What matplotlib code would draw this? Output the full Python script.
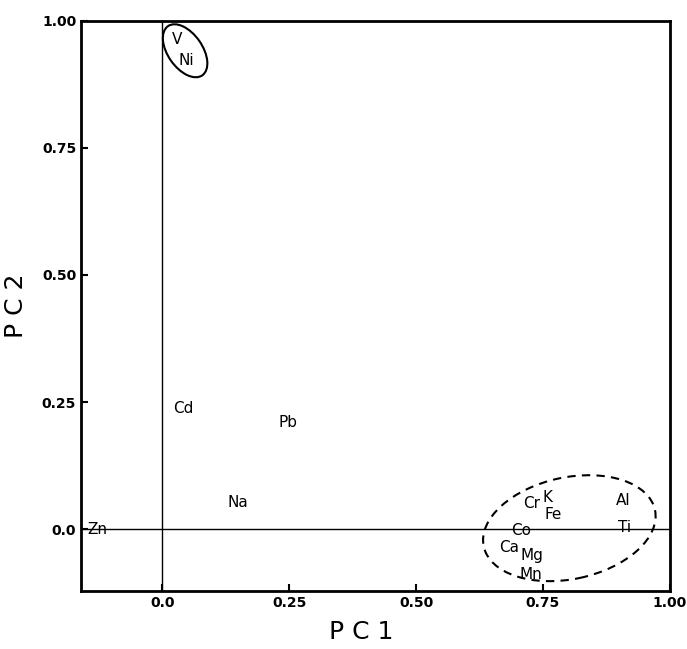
import matplotlib
matplotlib.use("Agg")
import matplotlib.pyplot as plt
from matplotlib.patches import Ellipse

# element loadings
elements = ["V", "Ni", "Cd", "Pb", "Na", "Zn", "Cr", "K", "Fe", "Al", "Ti", "Co", "Ca", "Mg", "Mn"]
pc1 = [0.030, 0.047, 0.042, 0.247, 0.148, -0.128, 0.727, 0.759, 0.771, 0.909, 0.911, 0.708, 0.684, 0.729, 0.727]
pc2 = [0.963, 0.921, 0.238, 0.209, 0.053, 0.000, 0.051, 0.063, 0.028, 0.057, 0.004, -0.002, -0.035, -0.051, -0.090]

xticks = [0.0, 0.25, 0.50, 0.75, 1.00]
xticklabels = ["0.0", "0.25", "0.50", "0.75", "1.00"]
yticks = [0.0, 0.25, 0.50, 0.75, 1.00]
yticklabels = ["0.0", "0.25", "0.50", "0.75", "1.00"]

fig = plt.figure(figsize=(6.87, 6.49), dpi=100)
ax = fig.add_axes([0.118, 0.089, 0.857, 0.879])

ax.axhline(0, color="black", lw=1.0)
ax.axvline(0, color="black", lw=1.0)

for name, x, y in zip(elements, pc1, pc2):
    ax.text(x, y, name, ha="center", va="center", fontsize=11)

ax.add_patch(Ellipse((0.045, 0.941), 0.118, 0.068, angle=-55,
                     fill=False, ec="black", lw=1.5))
ax.add_patch(Ellipse((0.802, 0.002), 0.345, 0.2, angle=12,
                     fill=False, ec="black", lw=1.5, ls=(0, (4, 3))))

ax.set_xlim(-0.16, 1.0)
ax.set_ylim(-0.122, 1.0)
ax.set_xticks(xticks)
ax.set_xticklabels(xticklabels, fontweight="bold")
ax.set_yticks(yticks)
ax.set_yticklabels(yticklabels, fontweight="bold")
ax.tick_params(direction="in", length=5, width=1.5, labelsize=10)
for s in ax.spines.values():
    s.set_linewidth(2)

ax.set_xlabel("P C 1", fontsize=18)
ax.xaxis.set_label_coords(0.475, -0.05)
ax.set_ylabel("P C 2", fontsize=18, labelpad=10)

fig.savefig("out.png", dpi=100)
